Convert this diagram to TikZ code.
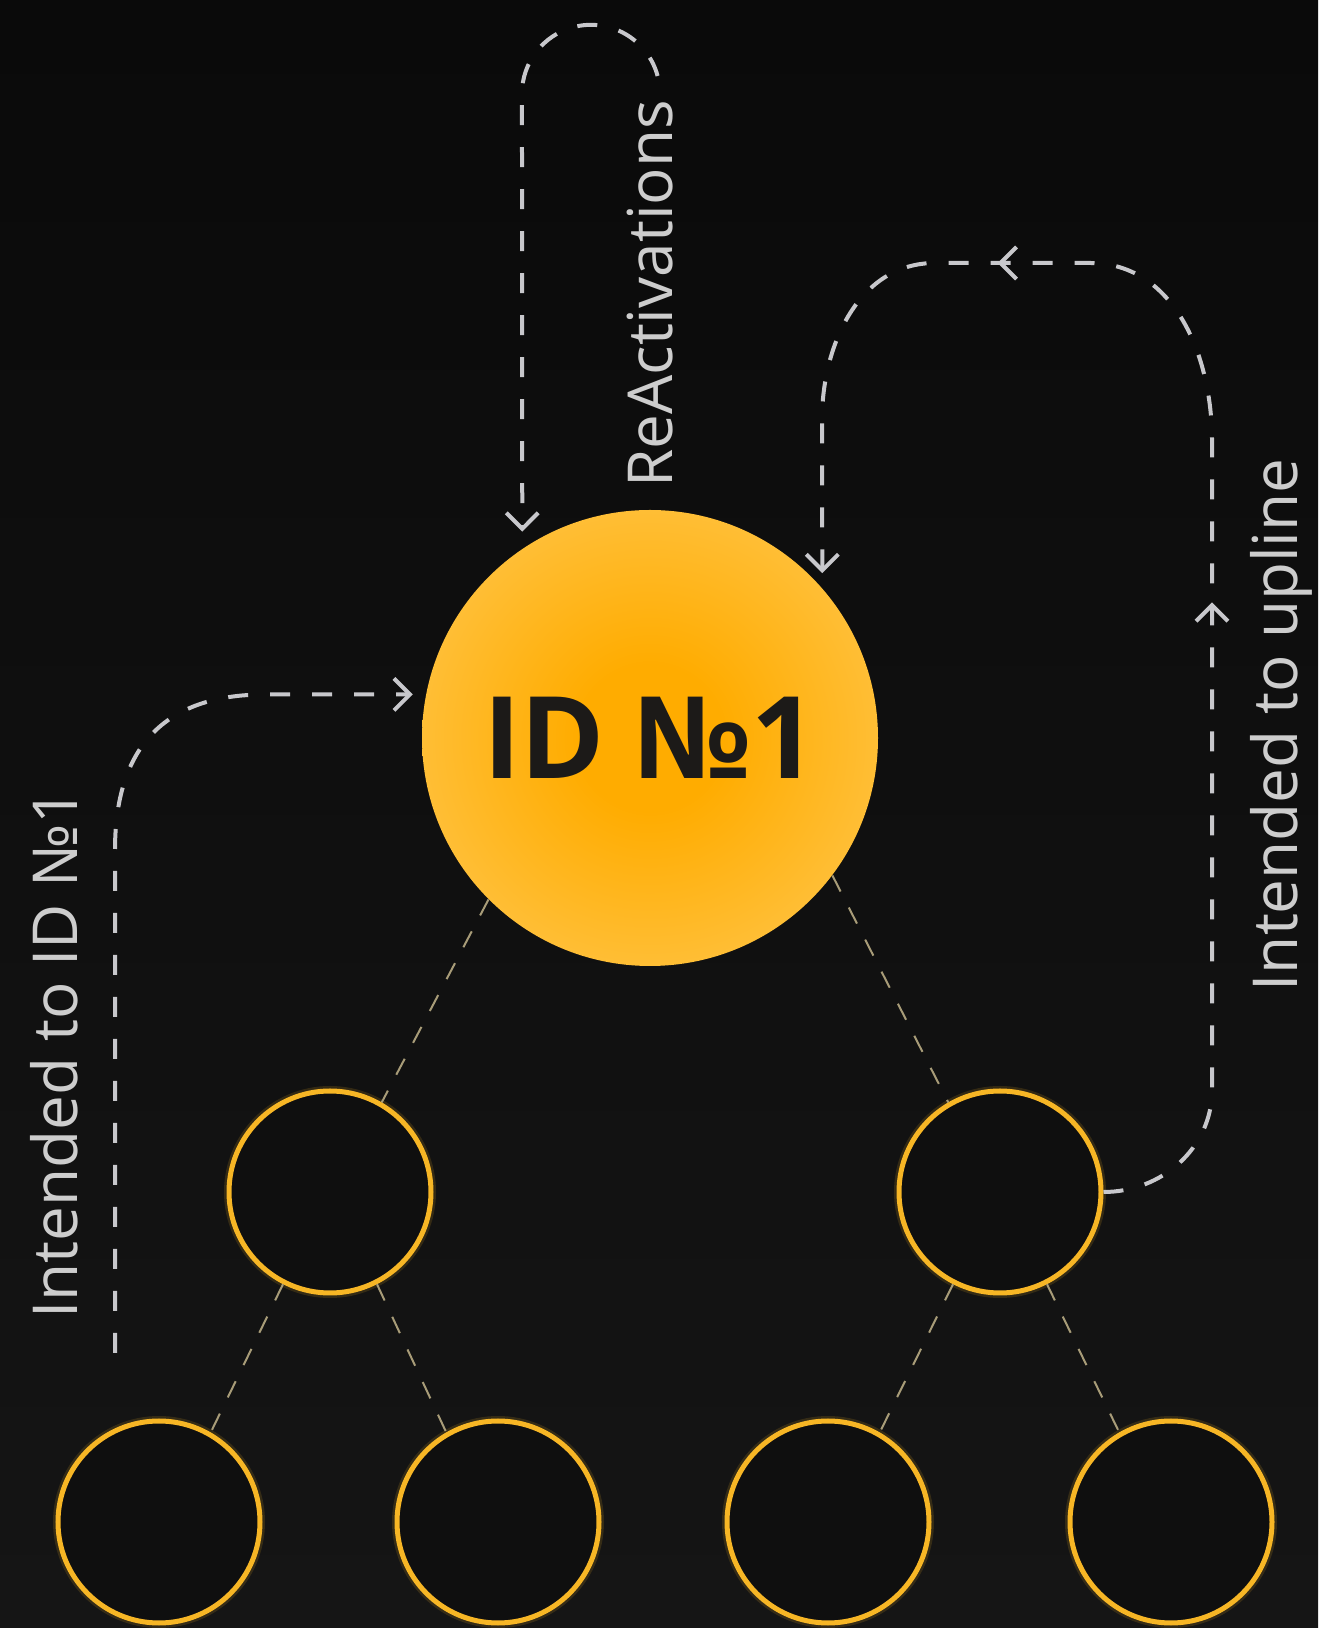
\documentclass[tikz,border=0pt]{standalone}
\usepackage{fontspec}
\setmainfont{Open Sans}
\newfontfamily\idfont{Open Sans}
\usepackage{tikz}
\usepackage{xcolor}
\usetikzlibrary{positioning}
\usetikzlibrary{arrows.meta}
\usetikzlibrary{decorations.markings}

\definecolor{bgtop}{HTML}{0A0A0A}
\definecolor{bgbottom}{HTML}{151515}
\definecolor{ringgold}{HTML}{F7B625}
\definecolor{ballin}{HTML}{FFAC00}
\definecolor{ballmid}{HTML}{FFBF38}
\definecolor{ballout}{HTML}{FFCA58}
\definecolor{linegray}{HTML}{C8C8CC}
\definecolor{labelgray}{HTML}{CDCDCD}
\definecolor{treetan}{HTML}{A89C78}
\definecolor{idink}{HTML}{1C1A18}

\pgfdeclareradialshading{sunball}{\pgfpoint{0bp}{0bp}}{color(0bp)=(ballin); color(8bp)=(ballin); color(26bp)=(ballmid); color(42bp)=(ballout); color(50bp)=(ballout)}

\tikzset{main node/.style={circle,shading=sunball,minimum size=228pt,inner sep=0pt,text=idink,font=\idfont\bfseries\fontsize{57}{68}\selectfont},}
\tikzset{ring node/.style={circle,draw=ringgold,line width=2.5pt,fill=bgtop!50!bgbottom,minimum size=101pt,inner sep=0pt,preaction={draw=ringgold,line width=5pt,draw opacity=0.15}},}
\tikzset{tree edge/.style={draw=treetan,line width=1pt,dash pattern=on 9pt off 9pt},}
\tikzset{loop line/.style={draw=linegray,line width=2pt,dash pattern=on 10pt off 11pt},}
\tikzset{barb/.style={-{Straight Barb[length=8pt,width=16pt]}},}
\tikzset{side label/.style={text=labelgray,font=\fontsize{31}{37}\selectfont,rotate=90,anchor=base,inner sep=0pt},}

\begin{document}
\begin{tikzpicture}[x=0.5pt,y=0.5pt]

 \fill[top color=bgtop,bottom color=bgbottom] (0,0) rectangle (1318,1628);
 \useasboundingbox (0,0) rectangle (1318,1628);

 \node[main node] (main) at (650,890) {ID №1};
    \node[ring node] (l2a) at (330,436) {};
    \node[ring node] (l2b) at (1000,436) {};
    \node[ring node,on grid] (l3a) [below left = 165pt and 85.5pt of l2a] {};
    \node[ring node,on grid] (l3b) [below right = 165pt and 84pt of l2a] {};
    \node[ring node,on grid] (l3c) [below left = 165pt and 86pt of l2b] {};
    \node[ring node,on grid] (l3d) [below right = 165pt and 85.5pt of l2b] {};
     \path[tree edge]    (main.225) edge (l2a.60);
     \path[tree edge]    (main.-37) edge (l2b.120);
     \path[tree edge]    (l2a.-117) edge (l3a.60);
     \path[tree edge]    (l2a.-63) edge (l3b.120);
     \path[tree edge]    (l2b.-117) edge (l3c.60);
     \path[tree edge]    (l2b.-63) edge (l3d.120);

  % labels, read from bottom to top
 \node[side label] (reactlabel) at (672,1334) {ReActivations};
 \node[side label] (idlabel) at (77,574) {Intended to ID №1};
 \node[side label] (uplabel) at (1297,903) {Intended to upline};

  % dashed loops
 \coordinate (reactstart) at (657.6,1552);
 \coordinate (idstart) at (115,275);
     \draw[loop line,barb,shorten >=8.5pt] (reactstart) arc[start angle=15,end angle=180,radius=69] -- (main.124);
     \draw[loop line,barb,shorten >=6.5pt] (idstart) -- (115,778) to[out=90,in=180,looseness=1.2] (265,933.5) -- (main.169);
     \draw[loop line,barb,shorten >=7.5pt,postaction={decorate},
       decoration={markings,
         mark=at position 0.41 with {\arrow{Straight Barb[length=8pt,width=16pt]}},
         mark=at position 0.72 with {\arrow{Straight Barb[length=8pt,width=16pt]}}}]
       (l2b.east) to[out=0,in=-90] (1212,538) -- (1212,1188) to[out=90,in=0] (1090,1365)
       -- (935,1365) to[out=180,in=90] (822,1208) -- (main.41);
\end{tikzpicture}
\end{document}
